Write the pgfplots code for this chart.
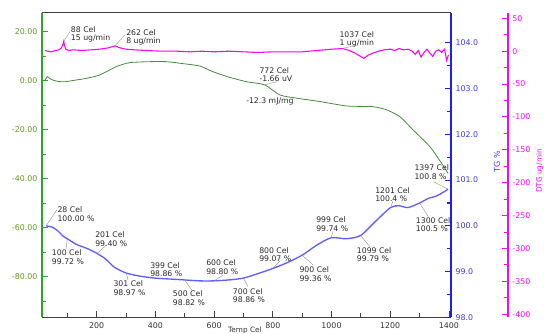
\documentclass[border=0pt]{standalone}
\usepackage{pgfplots}
\pgfplotsset{compat=1.18}
\usepackage{fontspec}
\setmainfont{DejaVu Sans}
\definecolor{dtaline}{RGB}{70,140,60}
\definecolor{axgreen}{RGB}{40,170,40}
\definecolor{lblgreen}{RGB}{100,150,30}
\definecolor{tgline}{RGB}{95,95,255}
\definecolor{axblue}{RGB}{30,30,240}
\definecolor{lblblue}{RGB}{60,60,230}
\definecolor{mag}{RGB}{255,0,255}
\definecolor{txt}{RGB}{40,40,40}
\begin{document}
\begin{tikzpicture}[x=0.75pt,y=0.75pt]
\path[use as bounding box] (0,0) rectangle (544,334);
\pgfplotsset{
  base/.style={
    at={(31.5pt,12.375pt)}, anchor=south west, scale only axis,
    width=306.75pt, height=228.6pt,
    xmin=14, xmax=1407,
    tick align=inside,
    major tick length=4.5pt, minor tick length=3pt,
    ticklabel style={font=\fontsize{5.9}{6.5}\selectfont},
    axis line style={-},
  }
}
% ---------------- DTA (left axis, green) ----------------
\begin{axis}[base,
  axis x line*=bottom, axis y line*=left,
  ymin=-96.7, ymax=27.8,
  xtick={200,400,600,800,1000,1200,1400},
  xticklabels={200,400,600,800,1000,1200,1400},
  minor xtick={100,300,500,700,900,1100,1300},
  ytick={-80,-60,-40,-20,0,20},
  yticklabels={-80.00,-60.00,-40.00,-20.00,0.00,20.00},
  minor ytick={-90,-70,-50,-30,-10,10},
  x axis line style={draw=black!75, line width=0.8pt},
  y axis line style={draw=axgreen, line width=1.3pt},
  x tick style={black!75, line width=0.6pt},
  y tick style={axgreen, line width=0.8pt},
  yticklabel style={text=lblgreen},
  xticklabel style={text=black!80},
]
\addplot[dtaline, line width=0.6pt, smooth, tension=0.4] coordinates {
(23,-0.1) (32,1.7) (40,1.0) (51,0.3) (70,-0.3) (92,-0.4) (130,0.3) (166,1.0)
(211,2.4) (268,5.8) (313,7.4) (381,7.8) (438,7.8) (494,7.0) (552,6.0) (596,3.7)
(650,1.5) (711,-0.4) (772,-1.66) (824,-5.8) (881,-7.1) (961,-8.5) (1052,-10.3)
(1142,-10.6) (1188,-11.9) (1233,-14.7) (1278,-20.1) (1335,-26.9) (1375,-33.7) (1397,-37.8)
};
\coordinate (g772) at (axis cs:772,-1.66);
\end{axis}
% ---------------- TG (right axis, blue) ----------------
\begin{axis}[base,
  axis x line*=top, axis y line*=right,
  xtick=\empty,
  ymin=98, ymax=104.655,
  ytick={98,99,100,101,102,103,104},
  yticklabels={98.0,99.0,100.0,101.0,102.0,103.0,104.0},
  minor ytick={98.5,99.5,100.5,101.5,102.5,103.5},
  x axis line style={draw=black!75, line width=0.8pt},
  y axis line style={draw=axblue, line width=1.3pt},
  y tick style={axblue, line width=0.8pt},
  yticklabel style={text=lblblue},
]
\addplot[tgline, line width=1pt, smooth, tension=0.45] coordinates {
(28,100.00) (50,99.97) (70,99.88) (85,99.78) (100,99.72) (130,99.60) (170,99.50)
(201,99.40) (230,99.28) (260,99.10) (301,98.97) (350,98.90) (399,98.86) (450,98.84)
(500,98.82) (550,98.80) (600,98.80) (650,98.82) (700,98.86) (750,98.96) (800,99.07)
(850,99.20) (900,99.36) (950,99.58) (999,99.74) (1050,99.72) (1099,99.79) (1150,100.1)
(1201,100.4) (1230,100.44) (1260,100.40) (1300,100.5) (1330,100.6) (1360,100.66) (1397,100.8)
};
\coordinate (t28) at (axis cs:28,100.00);
\coordinate (t100) at (axis cs:100,99.72);
\coordinate (t201) at (axis cs:201,99.40);
\coordinate (t301) at (axis cs:301,98.97);
\coordinate (t500) at (axis cs:500,98.82);
\coordinate (t600) at (axis cs:600,98.80);
\coordinate (t700) at (axis cs:700,98.86);
\coordinate (t800) at (axis cs:800,99.07);
\coordinate (t900) at (axis cs:900,99.36);
\coordinate (t999) at (axis cs:999,99.74);
\coordinate (t1099) at (axis cs:1099,99.79);
\coordinate (t1201) at (axis cs:1201,100.4);
\coordinate (t1300) at (axis cs:1300,100.5);
\coordinate (t1397) at (axis cs:1397,100.8);
\end{axis}
% ---------------- DTG (offset right axis, magenta) ----------------
\begin{axis}[base,
  width=349.3pt, xmin=14, xmax=1600.1,
  axis x line=none, axis y line*=right,
  ymin=-404.9, ymax=58.5,
  ytick={-400,-350,-300,-250,-200,-150,-100,-50,0,50},
  yticklabels={-400,-350,-300,-250,-200,-150,-100,-50,0,50},
  minor ytick={-375,-325,-275,-225,-175,-125,-75,-25,25},
  y axis line style={draw=mag, line width=1.3pt},
  y tick style={mag, line width=0.8pt},
  yticklabel style={text=mag},
]
\addplot[mag, line width=0.8pt] coordinates {
(24,1) (32,0) (45,-1) (60,1) (72,2) (80,5) (85,10) (88,15) (91,8) (95,3) (105,1) (120,2)
(150,1) (180,2) (210,3) (240,5) (262,8) (280,5) (300,3) (330,2) (370,1) (420,0)
(470,0) (520,-1) (560,0) (600,-1) (650,0) (700,-1) (750,-2) (800,-1) (850,-1)
(900,-1) (950,1) (1000,3) (1037,4) (1060,1) (1080,-3) (1095,-7) (1110,-11)
(1125,-6) (1140,-3) (1160,0) (1180,2) (1200,3) (1215,1) (1230,4) (1245,2) (1260,3)
(1275,0) (1285,-5) (1295,1) (1305,-9) (1315,-2) (1325,3) (1335,-3) (1345,-8)
(1355,0) (1365,2) (1375,-2) (1385,3) (1392,-14) (1398,-6)
};
\coordinate (m88) at (axis cs:88,15);
\coordinate (m262) at (axis cs:262,8);
\coordinate (m1037) at (axis cs:1037,4);
\end{axis}
% ---------------- axis titles ----------------
\node[rotate=90, text=lblblue, font=\fontsize{6}{7}\selectfont] at (497,172) {TG \%};
\node[rotate=90, text=mag, font=\fontsize{5.5}{6}\selectfont] at (539.5,163) {DTG ug/min};
\node[text=black!80, font=\fontsize{5.5}{6}\selectfont] at (245,4) {Temp Cel};
% ---------------- annotations ----------------
\begin{scope}[every node/.style={anchor=north west, inner sep=0pt, align=left,
    text=txt, font=\fontsize{5.8}{6.3}\selectfont}]
\node at (70.7,307.8) {88 Cel\\15 ug/min};
\node at (126,305.1) {262 Cel\\8 ug/min};
\node at (339.3,302.8) {1037 Cel\\1 ug/min};
\node at (259.3,266.8) {772 Cel\\-1.66 uV};
\node at (246,236.8) {-12.3 mJ/mg};
\node at (57.3,127.5) {28 Cel\\100.00 \%};
\node at (51.7,84.5) {100 Cel\\99.72 \%};
\node at (95,102.5) {201 Cel\\99.40 \%};
\node at (113.3,53.5) {301 Cel\\98.97 \%};
\node at (150,71.8) {399 Cel\\98.86 \%};
\node at (172.7,43.5) {500 Cel\\98.82 \%};
\node at (206,74.5) {600 Cel\\98.80 \%};
\node at (232.7,45.8) {700 Cel\\98.86 \%};
\node at (259,86.8) {800 Cel\\99.07 \%};
\node at (299.3,67.5) {900 Cel\\99.36 \%};
\node at (316,117.5) {999 Cel\\99.74 \%};
\node at (356.7,86.8) {1099 Cel\\99.79 \%};
\node at (375,146.8) {1201 Cel\\100.4 \%};
\node at (415.7,116.8) {1300 Cel\\100.5 \%};
\node at (414.3,169.5) {1397 Cel\\100.8 \%};
\end{scope}
\begin{scope}[draw=black!45, line width=0.3pt]
\draw (m88) -- (70,302.3);
\draw (m262) -- (125,299);
\draw (m1037) -- (356.7,289);
\draw (g772) -- (276.7,252.3);
\draw (t28) -- (56.7,124);
\draw (t100) -- (66,85);
\draw (t201) -- (106.7,89);
\draw (t301) -- (128,54);
\draw (t500) -- (191.7,44);
\draw (t600) -- (223.3,59);
\draw (t700) -- (248,47.3);
\draw (t800) -- (280,73);
\draw (t900) -- (313.3,69);
\draw (t999) -- (333,103);
\draw (t1099) -- (370,87.3);
\draw (t1201) -- (393,133);
\draw (t1300) -- (428.3,117.3);
\draw (t1397) -- (433.3,152.3);
\end{scope}
\end{tikzpicture}
\end{document}
